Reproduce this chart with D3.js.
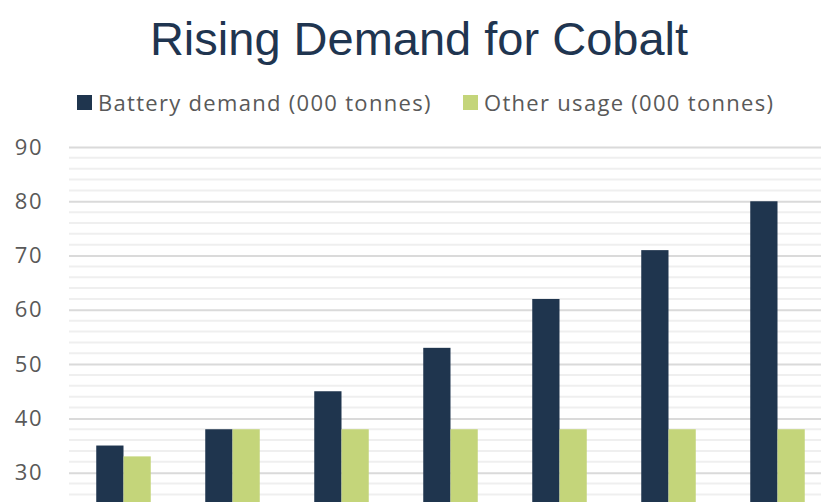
<!DOCTYPE html>
<html lang="en">
<head>
  <meta charset="UTF-8">
  <title>Rising Demand for Cobalt</title>
  <style>
    body {
      margin: 0;
      overflow: hidden;
      background: #fff;
    }
    #chart {
      width: 821px;
      height: 502px;
    }
  </style>
</head>
<body>
  <div id="chart"></div>

  <script src="https://d3js.org/d3.v7.min.js"></script>
  <script>
    // data (the x-axis labels are cut off in the reference)
    const years = ["2016", "2017", "2018", "2019", "2020", "2021", "2022"];
    const batteryDemand = [35, 38, 45, 53, 62, 71, 80];
    const otherUsage = [33, 38, 38, 38, 38, 38, 38];
    const seriesNames = ["Battery demand (000 tonnes)", "Other usage (000 tonnes)"];
    const yTicks = [30, 40, 50, 60, 70, 80, 90];

    const colors = ["#1f354e", "#c4d57a"];

    const width = 821;
    const height = 502;

    const svg = d3.select("#chart").append("svg")
      .attr("width", width)
      .attr("height", height);

    // the plot runs past the bottom and right edge of the picture
    const x0 = d3.scaleBand()
      .domain(years)
      .range([69, 832])
      .paddingInner(0.5)
      .paddingOuter(0.25);

    const x1 = d3.scaleBand()
      .domain([0, 1])
      .range([0, x0.bandwidth()]);

    const y = d3.scaleLinear()
      .domain([0, 90])
      .range([635.5, 147]);

    // minor gridlines every 2
    svg.append("g")
      .selectAll("line")
      .data(d3.range(0, 91, 2).filter(v => v % 10 !== 0))
      .join("line")
      .attr("x1", 69)
      .attr("x2", width)
      .attr("y1", d => y(d))
      .attr("y2", d => y(d))
      .attr("stroke", "#efefef")
      .attr("stroke-width", 2);

    // major gridlines + labels
    const yAxis = d3.axisLeft(y)
      .tickValues(yTicks)
      .tickSize(-(width - 69))
      .tickPadding(26);

    const gy = svg.append("g")
      .attr("transform", "translate(69,0)")
      .call(yAxis);
    gy.select(".domain").remove();
    gy.selectAll(".tick line")
      .attr("stroke", "#dadada")
      .attr("stroke-width", 2);
    gy.selectAll(".tick text")
      .attr("fill", "#595959")
      .style("font-family", "'Open Sans', sans-serif")
      .style("font-size", "22px")
      .style("letter-spacing", "1.5px");

    // bars
    const rows = years.map((yr, i) => ({ year: yr, values: [batteryDemand[i], otherUsage[i]] }));

    svg.append("g")
      .selectAll("g")
      .data(rows)
      .join("g")
      .attr("transform", d => `translate(${x0(d.year)},0)`)
      .selectAll("rect")
      .data(d => d.values.map((v, k) => ({ k, v })))
      .join("rect")
      .attr("x", d => x1(d.k))
      .attr("y", d => y(d.v))
      .attr("width", x1.bandwidth())
      .attr("height", d => y(0) - y(d.v))
      .attr("fill", d => colors[d.k]);

    // title
    svg.append("text")
      .attr("x", 419)
      .attr("y", 55)
      .attr("text-anchor", "middle")
      .attr("fill", "#1f3550")
      .style("font-family", "'Liberation Sans', Arial, sans-serif")
      .style("font-size", "47px")
      .text("Rising Demand for Cobalt");

    // legend
    const legendX = [77, 463];
    const legend = svg.append("g")
      .selectAll("g")
      .data(seriesNames)
      .join("g")
      .attr("transform", (d, i) => `translate(${legendX[i]},95)`);

    legend.append("rect")
      .attr("width", 15)
      .attr("height", 15)
      .attr("fill", (d, i) => colors[i]);

    legend.append("text")
      .attr("x", 21)
      .attr("y", 16)
      .attr("fill", "#595959")
      .style("font-family", "'Open Sans', sans-serif")
      .style("font-size", "22px")
      .style("letter-spacing", "1.3px")
      .text(d => d);
  </script>
</body>
</html>
